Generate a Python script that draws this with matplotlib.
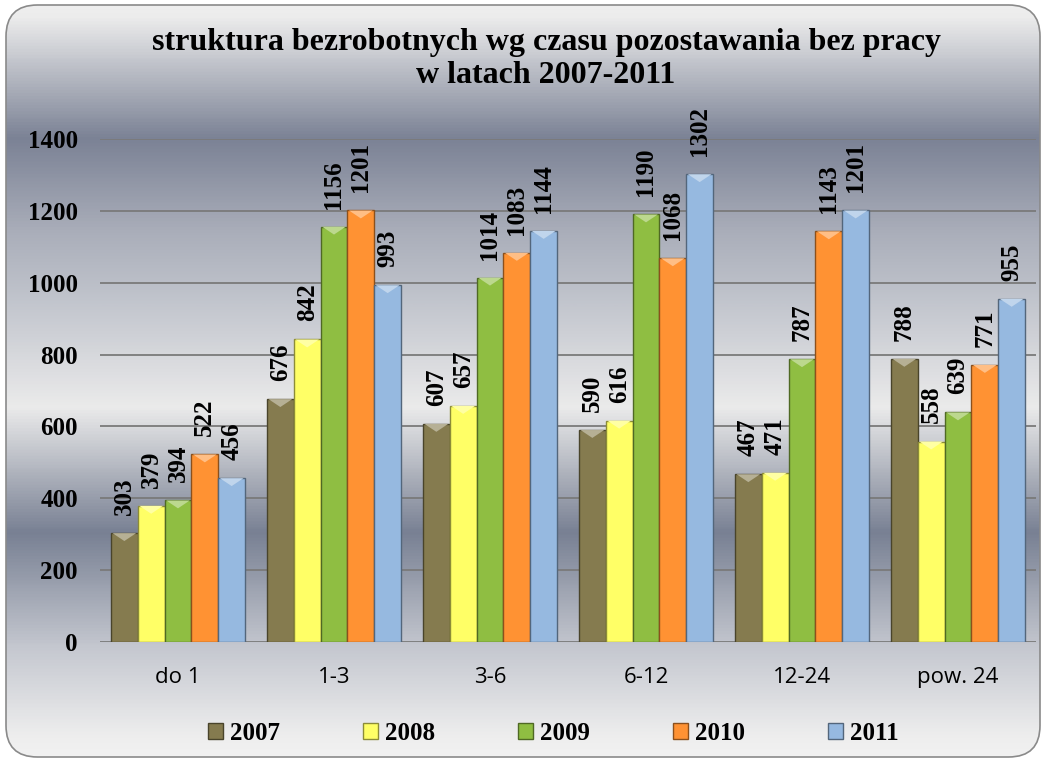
import numpy as np
import matplotlib
matplotlib.use('Agg')
import matplotlib.pyplot as plt
from matplotlib.colors import LinearSegmentedColormap, to_rgb
from matplotlib.patches import FancyBboxPatch, Polygon

categories = ['do 1', '1-3', '3-6', '6-12', '12-24', 'pow. 24']
years = ['2007', '2008', '2009', '2010', '2011']
v2007 = [303, 676, 607, 590, 467, 788]
v2008 = [379, 842, 657, 616, 471, 558]
v2009 = [394, 1156, 1014, 1190, 787, 639]
v2010 = [522, 1201, 1083, 1068, 1143, 771]
v2011 = [456, 993, 1144, 1302, 1201, 955]
colors = ['#857b4f', '#ffff66', '#8fbe42', '#ff9233', '#96b9e0']

series = [v2007, v2008, v2009, v2010, v2011]
serif = 'Liberation Serif'

fig = plt.figure(figsize=(10.48, 7.62), dpi=100)

# metallic background in a rounded frame
bg = fig.add_axes([0, 0, 1, 1], zorder=-5)
bg.set_xlim(0, 1)
bg.set_ylim(0, 1)
bg.axis('off')
stops = [(0.0, '#f0f0f0'), (0.02, '#ececec'), (0.18, '#7b8295'), (0.30, '#a9adb9'),
         (0.40, '#c3c6ce'), (0.535, '#ebebeb'), (0.70, '#788093'),
         (0.85, '#c4c7cf'), (0.97, '#eeeeee'), (1.0, '#f2f2f2')]
cmap = LinearSegmentedColormap.from_list('metal', stops)
grad = np.linspace(0, 1, 500).reshape(-1, 1)
frame = FancyBboxPatch((6 / 1048, 5 / 762), 1034 / 1048, 752 / 762,
                       boxstyle='round,pad=0,rounding_size=0.03',
                       transform=bg.transAxes, facecolor='none',
                       edgecolor='#8a8a8a', linewidth=1.2, zorder=3,
                       mutation_aspect=1048 / 762)
bg.add_patch(frame)
im = bg.imshow(grad, cmap=cmap, aspect='auto', extent=[0, 1, 0, 1], origin='upper')
im.set_clip_path(frame)

ax = fig.add_axes([100 / 1048, 1 - 642 / 762, 936 / 1048, 503 / 762])
ax.patch.set_alpha(0)

n = len(series)
width = 0.172
x = np.arange(len(categories))
for i, (vals, c) in enumerate(zip(series, colors)):
    pos = x + (i - (n - 1) / 2) * width
    bars = ax.bar(pos, vals, width=width, color=c, edgecolor=tuple(0.55 * np.array(to_rgb(c))),
                  linewidth=1.0, label=years[i], zorder=3)
    light = tuple(np.minimum(1, np.array(to_rgb(c)) * 0.6 + 0.4))
    for b in bars:
        bx, bw, bh = b.get_x(), b.get_width(), b.get_height()
        tri = Polygon([(bx + 0.01, bh), (bx + bw - 0.01, bh), (bx + bw / 2, bh - 22)],
                      closed=True, facecolor=light, edgecolor='none', zorder=4)
        ax.add_patch(tri)
    for p, v in zip(pos, vals):
        ax.annotate(str(v), (p, v), xytext=(0, 13), textcoords='offset points',
                    rotation=90, ha='center', va='bottom', fontsize=18,
                    fontweight='bold', family=serif, zorder=5)

ax.set_ylim(0, 1400)
ax.set_xlim(-0.5, len(categories) - 0.5)
ax.set_yticks(range(0, 1401, 200))
ax.set_xticks(x)
ax.set_xticklabels(categories, fontsize=16, family='Open Sans')
for lab in ax.get_yticklabels():
    lab.set_family(serif)
    lab.set_fontweight('bold')
    lab.set_fontsize(18)
ax.tick_params(axis='y', length=0, pad=16)
ax.tick_params(axis='x', length=0, pad=18)
ax.grid(axis='y', color='#7a7a7a', linewidth=1.3, zorder=0)
for s in ax.spines.values():
    s.set_visible(False)

fig.text(0.521, 1 - 59 / 762, 'struktura bezrobotnych wg czasu pozostawania bez pracy\nw latach 2007-2011',
         ha='center', va='center', fontsize=23, fontweight='bold', family=serif, linespacing=1.22)

fig.legend(loc='center', bbox_to_anchor=(0.528, 1 - 733 / 762), ncol=5, frameon=False,
           prop={'family': serif, 'weight': 'bold', 'size': 18},
           handlelength=0.6, handleheight=0.6, handletextpad=0.3, columnspacing=3.3)

fig.savefig('out.png', dpi=100)
